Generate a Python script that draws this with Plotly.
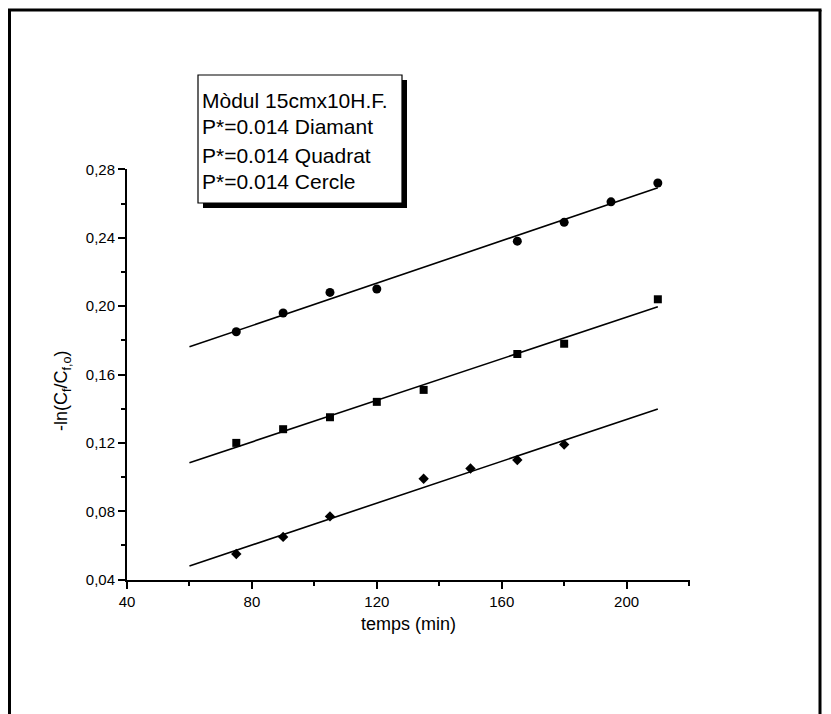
import numpy as np
import plotly.graph_objects as go

# ---- data ----
circle_x = [75, 90, 105, 120, 165, 180, 195, 210]
circle_y = [0.185, 0.196, 0.208, 0.210, 0.238, 0.249, 0.261, 0.272]

square_x = [75, 90, 105, 120, 135, 165, 180, 210]
square_y = [0.120, 0.128, 0.135, 0.144, 0.151, 0.172, 0.178, 0.204]

diamond_x = [75, 90, 105, 135, 150, 165, 180]
diamond_y = [0.055, 0.065, 0.077, 0.099, 0.105, 0.110, 0.119]

fit_x = [60, 210]

x_ticks = [40, 80, 120, 160, 200]
y_ticks = [0.04, 0.08, 0.12, 0.16, 0.20, 0.24, 0.28]

legend_lines = ["Mòdul 15cmx10H.F.", "P*=0.014 Diamant", "P*=0.014 Quadrat", "P*=0.014 Cercle"]

FONT = "Liberation Sans, Arial, sans-serif"
W, H = 831, 714
L, R, T, B = 127, 690, 169, 580  # plot area pixel edges


def px(xp):
    return (xp - L) / (R - L)


def py(yp):
    return (B - yp) / (B - T)


fig = go.Figure()


def add_series(xs, ys, symbol, size):
    a, b = np.polyfit(xs, ys, 1)
    fx = np.array(fit_x, dtype=float)
    fig.add_trace(go.Scatter(x=fx, y=a * fx + b, mode="lines",
                             line=dict(color="black", width=1.6),
                             showlegend=False, hoverinfo="skip"))
    fig.add_trace(go.Scatter(x=xs, y=ys, mode="markers",
                             marker=dict(symbol=symbol, size=size, color="black",
                                         line=dict(width=0)),
                             showlegend=False))


add_series(circle_x, circle_y, "circle", 9)
add_series(square_x, square_y, "square", 8)
add_series(diamond_x, diamond_y, "diamond", 8)

axis_common = dict(showline=True, linecolor="black", linewidth=2, ticks="outside",
                   tickcolor="black", tickwidth=1.5, ticklen=7, showgrid=False,
                   zeroline=False, mirror=False,
                   tickfont=dict(family=FONT, size=15, color="black"))

fig.update_xaxes(range=[40, 220.3], tickvals=x_ticks, ticktext=[str(v) for v in x_ticks],
                 minor=dict(ticks="outside", ticklen=4, tickcolor="black", tickwidth=1.5,
                            dtick=20, tick0=40, showgrid=False),
                 title=dict(text="temps (min)", font=dict(family=FONT, size=18, color="black"),
                            standoff=8),
                 **axis_common)
fig.update_yaxes(range=[0.0398, 0.2802], tickvals=y_ticks, tickformat=".2f",
                 minor=dict(ticks="outside", ticklen=4, tickcolor="black", tickwidth=1.5,
                            dtick=0.02, tick0=0.04, showgrid=False),
                 **axis_common)

shapes = [
    # page frame
    dict(type="line", xref="paper", yref="paper", x0=px(9.5), x1=px(9.5), y0=py(10), y1=py(720),
         line=dict(color="black", width=3)),
    dict(type="line", xref="paper", yref="paper", x0=px(8), x1=px(821.5), y0=py(10), y1=py(10),
         line=dict(color="black", width=3)),
    dict(type="line", xref="paper", yref="paper", x0=px(820), x1=px(820), y0=py(10), y1=py(720),
         line=dict(color="black", width=3)),
    # legend box shadow
    dict(type="rect", xref="paper", yref="paper", x0=px(203), x1=px(407), y0=py(208), y1=py(80),
         fillcolor="black", line=dict(width=0)),
    # legend box
    dict(type="rect", xref="paper", yref="paper", x0=px(198), x1=px(402), y0=py(203), y1=py(75),
         fillcolor="white", line=dict(color="black", width=1.2)),
]

annotations = []
for i, (txt, yc) in enumerate(zip(legend_lines, [101, 127, 155, 182])):
    annotations.append(dict(text=txt, xref="paper", yref="paper", x=px(200), y=py(yc),
                            xanchor="left", yanchor="middle", showarrow=False,
                            font=dict(family=FONT, size=21, color="black")))

annotations.append(dict(text="-ln(C<sub>f</sub>/C<sub>f,o</sub>)", xref="paper", yref="paper",
                        x=px(62), y=py(391), xanchor="center", yanchor="middle",
                        textangle=-90, showarrow=False,
                        font=dict(family=FONT, size=18, color="black")))

fig.update_layout(width=W, height=H, margin=dict(l=L, r=W - R, t=T, b=H - B, pad=0),
                  paper_bgcolor="white", plot_bgcolor="white", separators=",.",
                  shapes=shapes, annotations=annotations, showlegend=False,
                  font=dict(family=FONT, color="black"))

fig.write_html("out.html")
